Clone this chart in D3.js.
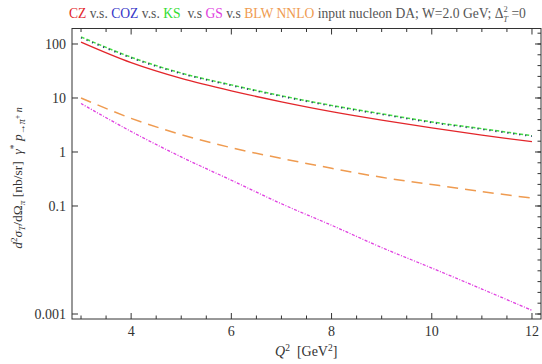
<!DOCTYPE html>
<html>
<head>
<meta charset="utf-8">
<script src="https://cdn.jsdelivr.net/npm/d3@7"></script>
<style>
  body { margin: 0; background: #fff; }
  svg { display: block; font-family: "Liberation Serif", "DejaVu Serif", serif; }
</style>
</head>
<body>
<svg id="chart"></svg>
<script>
const width = 542;
const height = 364;

// Q^2 values (GeV^2) and cross sections (nb/sr)
const q2 = [3, 4, 5, 6, 7, 8, 9, 10, 11, 12];
const cz = [108, 45, 23, 13.5, 8.5, 5.6, 3.9, 2.8, 2.05, 1.55];
const ks = [135, 57, 29, 17.5, 11, 7.3, 5.1, 3.6, 2.7, 2.0];
const coz = [130, 55, 28.2, 17, 10.7, 7.1, 4.95, 3.5, 2.62, 1.95];
const gs = [7.9, 2.4, 0.81, 0.30, 0.11, 0.044, 0.017, 0.0071, 0.0029, 0.00117];
const blw = [10, 4.2, 2.1, 1.2, 0.76, 0.50, 0.34, 0.25, 0.185, 0.14];

const xMajor = [4, 6, 8, 10, 12];
const yMajor = [100, 10, 1, 0.1, 0.001];
const yLabels = ["100", "10", "1", "0.1", "0.001"];

let marginTop = 28.5; // frame top
let marginBottom = 45; // space below frame
let marginLeft = 72;
let marginRight = 1;

const x = d3.scaleLinear([2.82, 12.18], [marginLeft, width - marginRight]);
const y = d3.scaleLog([0.000808, 193.6], [height - marginBottom, marginTop]);

const svg = d3.select("#chart")
  .attr("width", width)
  .attr("height", height)
  .attr("viewBox", [0, 0, width, height]);

// curves
const line = (vals) => d3.line()
  .x((d, i) => x(q2[i]))
  .y((d) => y(d))
  .curve(d3.curveCatmullRom)(vals);

const series = [
  { v: blw, color: "#ef9b50", dash: "11,7", w: 1.5 },
  { v: gs, color: "#e040e0", dash: "3,1.5,1,1.5", w: 1.3 },
  { v: cz, color: "#e3262b", dash: null, w: 1.3 },
  { v: ks, color: "#44dd44", dash: "4,2", w: 1.5 },
  { v: coz, color: "#2b2b7a", dash: "1.2,4.8", w: 1.5 },
];

svg.append("g")
  .attr("fill", "none")
  .selectAll("path")
  .data(series)
  .join("path")
  .attr("d", (s) => line(s.v))
  .attr("stroke", (s) => s.color)
  .attr("stroke-width", (s) => s.w)
  .attr("stroke-dasharray", (s) => s.dash);

// frame
const x0 = marginLeft, x1 = width - marginRight;
const y0 = marginTop, y1 = height - marginBottom;
svg.append("rect")
  .attr("x", x0).attr("y", y0)
  .attr("width", x1 - x0).attr("height", y1 - y0)
  .attr("fill", "none").attr("stroke", "#333").attr("stroke-width", 1);

// x ticks (bottom and top, inward)
const xMinor = d3.range(3, 12.01, 0.5).filter((v) => !xMajor.includes(v));
const xt = svg.append("g").attr("stroke", "#333").attr("stroke-width", 1);
xMajor.forEach((v) => {
  xt.append("line").attr("x1", x(v)).attr("x2", x(v)).attr("y1", y1).attr("y2", y1 - 6);
  xt.append("line").attr("x1", x(v)).attr("x2", x(v)).attr("y1", y0).attr("y2", y0 + 6);
});
xMinor.forEach((v) => {
  xt.append("line").attr("x1", x(v)).attr("x2", x(v)).attr("y1", y1).attr("y2", y1 - 3.5);
  xt.append("line").attr("x1", x(v)).attr("x2", x(v)).attr("y1", y0).attr("y2", y0 + 3.5);
});

svg.append("g")
  .attr("fill", "#333")
  .attr("font-size", 14)
  .attr("text-anchor", "middle")
  .selectAll("text")
  .data(xMajor)
  .join("text")
  .attr("x", (d) => x(d))
  .attr("y", y1 + 17)
  .text((d) => d);

// y ticks
yMajor.forEach((v) => {
  xt.append("line").attr("x1", x0).attr("x2", x0 + 6).attr("y1", y(v)).attr("y2", y(v));
  xt.append("line").attr("x1", x1).attr("x2", x1 - 6).attr("y1", y(v)).attr("y2", y(v));
});
d3.range(-3, 2.3, 0.2).forEach((e) => {
  const v = Math.pow(10, e);
  if (y(v) > y0 + 2 && y(v) < y1 - 2)
    xt.append("line").attr("x1", x1).attr("x2", x1 - 3.5).attr("y1", y(v)).attr("y2", y(v));
});

svg.append("g")
  .attr("fill", "#333")
  .attr("font-size", 14)
  .attr("text-anchor", "end")
  .selectAll("text")
  .data(yMajor)
  .join("text")
  .attr("x", x0 - 6)
  .attr("y", (d) => y(d) + 5)
  .text((d, i) => yLabels[i]);

// x label
const xl = svg.append("text")
  .attr("x", 275).attr("y", 356)
  .attr("fill", "#333").attr("font-size", 14)
  .attr("text-anchor", "start")
  .attr("xml:space", "preserve");
xl.append("tspan").attr("font-style", "italic").text("Q");
xl.append("tspan").attr("font-size", 9.5).attr("dy", -5).text("2");
xl.append("tspan").attr("dy", 5).text("  [GeV");
xl.append("tspan").attr("font-size", 9.5).attr("dy", -5).text("2");
xl.append("tspan").attr("dy", 5).text("]");

// y label
const yl = svg.append("text")
  .attr("transform", `translate(22,178) rotate(-90)`)
  .attr("fill", "#333").attr("font-size", 13.5)
  .attr("text-anchor", "middle")
  .attr("xml:space", "preserve");
yl.append("tspan").attr("font-style", "italic").text("d");
yl.append("tspan").attr("font-size", 9).attr("dy", -5).text("2");
yl.append("tspan").attr("dy", 5).attr("font-style", "italic").text("σ");
yl.append("tspan").attr("font-size", 9).attr("dy", 3).attr("font-style", "italic").text("T");
yl.append("tspan").attr("dy", -3).text("/dΩ");
yl.append("tspan").attr("font-size", 9).attr("dy", 3).attr("font-style", "italic").text("π");
yl.append("tspan").attr("dy", -3).text(" [nb/sr]  ");
yl.append("tspan").attr("font-style", "italic").text("γ");
yl.append("tspan").attr("font-size", 9.5).attr("dy", -5).text("*");
yl.append("tspan").attr("dy", 5).attr("font-style", "italic").text(" p");
yl.append("tspan").attr("font-size", 10).attr("dy", 3).attr("font-style", "italic").text("→π");
yl.append("tspan").attr("font-size", 8).attr("dy", -5).text("+");
yl.append("tspan").attr("font-size", 10).attr("dy", 2).attr("font-style", "italic").text(" n");

// title
const title = [
  ["CZ", "#e3262b"], [" v.s. ", "#555"], ["COZ", "#3535c8"], [" v.s. ", "#555"],
  ["KS", "#33dd33"], ["  v.s ", "#555"], ["GS", "#e040e0"], [" v.s ", "#555"],
  ["BLW NNLO", "#ef9b50"], [" input nucleon DA; W=2.0 GeV; Δ", "#555"],
];
const tt = svg.append("text")
  .attr("x", 69).attr("y", 18)
  .attr("font-size", 13.6)
  .attr("xml:space", "preserve");
title.forEach(([t, c]) => tt.append("tspan").attr("fill", c).text(t));
tt.append("tspan").attr("fill", "#555").attr("font-size", 8.5).attr("dy", -6).text("2");
tt.append("tspan").attr("fill", "#555").attr("font-size", 8.5).attr("dx", -4.5).attr("dy", 10).attr("font-style", "italic").text("T");
tt.append("tspan").attr("fill", "#555").attr("dy", -4).text(" =0");
</script>
</body>
</html>
